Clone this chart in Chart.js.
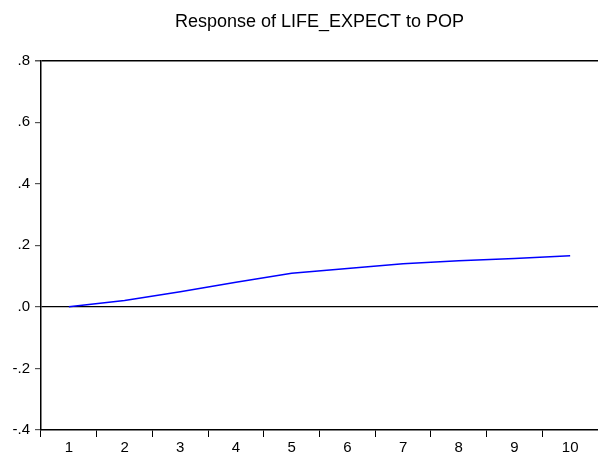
<!DOCTYPE html>
<html>
<head>
<meta charset="utf-8">
<script src="https://cdn.jsdelivr.net/npm/chart.js@4/dist/chart.umd.min.js"></script>
<style>
  html, body { margin: 0; padding: 0; background: #fff; }
  #wrap { width: 598px; height: 454px; }
</style>
</head>
<body>
<div id="wrap"><canvas id="irfChart" width="598" height="454"></canvas></div>
<script>
const periods = ["1", "2", "3", "4", "5", "6", "7", "8", "9", "10"];
const response = [0.0, 0.021, 0.049, 0.080, 0.109, 0.125, 0.140, 0.150, 0.157, 0.166];
const yTicks = [-0.4, -0.2, 0.0, 0.2, 0.4, 0.6, 0.8];

function fmtTick(v) {
  const s = Math.abs(v).toFixed(1).replace(/^0/, "");
  return v < -1e-9 ? "-" + s : s;
}

document.addEventListener("DOMContentLoaded", function () {
  const canvas = document.getElementById("irfChart");

  new Chart(canvas, {
    type: "line",
    data: {
      labels: periods,
      datasets: [
        {
          data: response,
          borderColor: "#0000ff",
          borderWidth: 1.5,
          pointRadius: 0,
          tension: 0,
          fill: false,
        },
      ],
    },
    options: {
      responsive: false,
      animation: false,
      layout: { padding: 0 },
      plugins: {
        legend: { display: false },
        tooltip: { enabled: false },
        title: {
          display: true,
          fullSize: false,
          text: "Response of LIFE_EXPECT to POP",
          color: "#000",
          font: { family: "'Liberation Sans', Arial, sans-serif", size: 18, weight: "normal" },
          padding: { top: 11, bottom: 28 },
        },
      },
      scales: {
        x: {
          offset: true,
          grid: {
            offset: true,
            drawOnChartArea: false,
            drawTicks: true,
            tickLength: 7,
            tickColor: "#000",
          },
          border: { display: true, color: "#000", width: 1.5 },
          ticks: {
            color: "#000",
            padding: 2,
            maxRotation: 0,
            font: { family: "'Liberation Sans', Arial, sans-serif", size: 15 },
          },
          afterFit: (scale) => { scale.height = 24; },
        },
        y: {
          min: yTicks[0],
          max: yTicks[yTicks.length - 1],
          afterBuildTicks: (scale) => {
            scale.ticks = yTicks.map((v) => ({ value: v }));
          },
          grid: {
            color: (ctx) =>
              Math.abs(ctx.tick.value) < 1e-9 || Math.abs(ctx.tick.value - 0.8) < 1e-9 ? "#000" : "rgba(0,0,0,0)",
            lineWidth: (ctx) => (Math.abs(ctx.tick.value - 0.8) < 1e-9 ? 1.5 : 1.2),
            drawTicks: true,
            tickLength: 6,
            tickColor: "#555",
          },
          border: { display: true, color: "#000", width: 1.5 },
          ticks: {
            color: "#000",
            padding: 5,
            font: { family: "'Liberation Sans', Arial, sans-serif", size: 15 },
            callback: (v) => fmtTick(v),
          },
          afterFit: (scale) => { scale.width = 41; },
        },
      },
    },
  });
});
</script>
</body>
</html>
